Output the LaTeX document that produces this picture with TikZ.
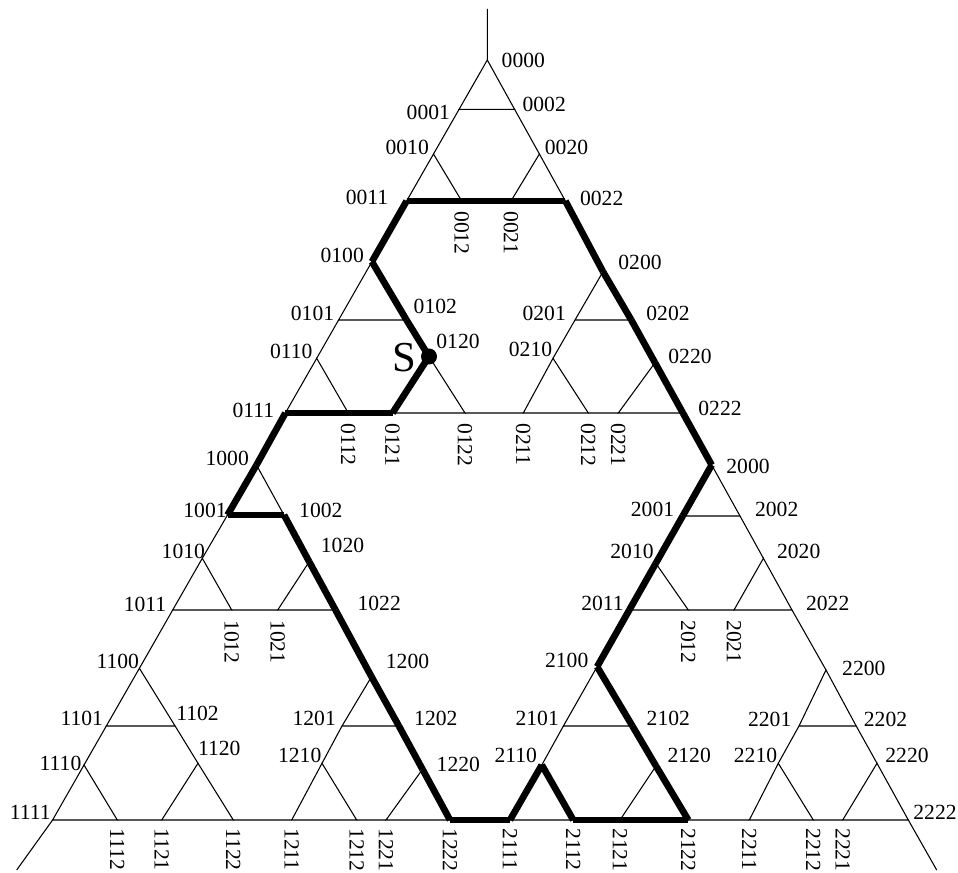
\documentclass[tikz,border=0pt]{standalone}
\usepackage{fontspec}
\setmainfont{Liberation Serif}
\usetikzlibrary{calc}
\begin{document}
\begin{tikzpicture}[x=0.75pt,y=-0.75pt,
  hedge/.style={line width=0.8pt},
  pathseg/.style={line width=5pt, line cap=butt},
  lab/.style={inner sep=0pt, font=\fontsize{16.2}{19}\selectfont},
  rlab/.style={lab, rotate=-90, anchor=west}]
\useasboundingbox (0,0) rectangle (958,873);
% vertices
\coordinate (v0000) at (487.3,60);
\coordinate (v0001) at (459.1,109.3);
\coordinate (v0002) at (514.6,109.3);
\coordinate (v0010) at (433.5,154);
\coordinate (v0011) at (406.6,201);
\coordinate (v0012) at (461.7,201);
\coordinate (v0020) at (539.4,154);
\coordinate (v0021) at (511,201);
\coordinate (v0022) at (565.4,201);
\coordinate (v0100) at (371.9,261.7);
\coordinate (v0101) at (338.6,320);
\coordinate (v0102) at (406.5,320);
\coordinate (v0110) at (316.7,358.3);
\coordinate (v0111) at (285.4,413);
\coordinate (v0112) at (348.3,413);
\coordinate (v0120) at (429,356.5);
\coordinate (v0121) at (392.5,413);
\coordinate (v0122) at (465,413);
\coordinate (v0200) at (603,271.7);
\coordinate (v0201) at (575,320);
\coordinate (v0202) at (631.3,320);
\coordinate (v0210) at (553,358.3);
\coordinate (v0211) at (523.3,413);
\coordinate (v0212) at (588.3,413);
\coordinate (v0220) at (655,362.7);
\coordinate (v0221) at (618.3,413);
\coordinate (v0222) at (682.9,413);
\coordinate (v1000) at (256.5,465);
\coordinate (v1001) at (227.5,515);
\coordinate (v1002) at (284,515);
\coordinate (v1010) at (202.3,558.3);
\coordinate (v1011) at (172.7,610);
\coordinate (v1012) at (231.7,610);
\coordinate (v1020) at (309.2,561.7);
\coordinate (v1021) at (277.7,610);
\coordinate (v1022) at (335.5,610);
\coordinate (v1100) at (139.4,668.3);
\coordinate (v1101) at (106.3,726);
\coordinate (v1102) at (175.1,726);
\coordinate (v1110) at (84,765);
\coordinate (v1111) at (52.6,820);
\coordinate (v1112) at (117.3,820);
\coordinate (v1120) at (198,763.3);
\coordinate (v1121) at (161.7,820);
\coordinate (v1122) at (233.3,820);
\coordinate (v1200) at (371.5,676.7);
\coordinate (v1201) at (342,726);
\coordinate (v1202) at (398.9,726);
\coordinate (v1210) at (322,763.3);
\coordinate (v1211) at (291.7,820);
\coordinate (v1212) at (356.7,820);
\coordinate (v1220) at (422.5,769.3);
\coordinate (v1221) at (386,820);
\coordinate (v1222) at (450,820);
\coordinate (v2000) at (711.7,465);
\coordinate (v2001) at (682.7,516);
\coordinate (v2002) at (740,516);
\coordinate (v2010) at (655.8,563.3);
\coordinate (v2011) at (629.3,610);
\coordinate (v2012) at (688.3,610);
\coordinate (v2020) at (763.4,558.3);
\coordinate (v2021) at (734,610);
\coordinate (v2022) at (792,610);
\coordinate (v2100) at (597.1,666.7);
\coordinate (v2101) at (563.4,726);
\coordinate (v2102) at (632.4,726);
\coordinate (v2110) at (541.8,765);
\coordinate (v2111) at (510,820);
\coordinate (v2112) at (573.3,820);
\coordinate (v2120) at (656,766);
\coordinate (v2121) at (620,820);
\coordinate (v2122) at (688.3,820);
\coordinate (v2200) at (826,670);
\coordinate (v2201) at (799,726);
\coordinate (v2202) at (856.2,726);
\coordinate (v2210) at (778.3,763.3);
\coordinate (v2211) at (749.3,820);
\coordinate (v2212) at (813.3,820);
\coordinate (v2220) at (877,763.3);
\coordinate (v2221) at (842.7,820);
\coordinate (v2222) at (908.3,820);
\coordinate (ctop) at (487.3,9);
\coordinate (cbl) at (16.7,870);
\coordinate (cbr) at (936.7,870);
% thin edges
\foreach \a in {0,1,2}{\foreach \b in {0,1,2}{\foreach \c in {0,1,2}{
  \draw[hedge] (v\a\b\c0) -- (v\a\b\c1) -- (v\a\b\c2) -- cycle;}}}
\foreach \a in {0,1,2}{\foreach \b in {0,1,2}{
  \draw[hedge] (v\a\b01) -- (v\a\b10) (v\a\b02) -- (v\a\b20) (v\a\b12) -- (v\a\b21);}}
\foreach \a in {0,1,2}{
  \draw[hedge] (v\a011) -- (v\a100) (v\a022) -- (v\a200) (v\a122) -- (v\a211);}
\draw[hedge] (v0111) -- (v1000) (v0222) -- (v2000) (v1222) -- (v2111);
\draw[hedge] (v0000) -- (ctop) (v1111) -- (cbl) (v2222) -- (cbr);
% thick path
\foreach \p/\q in {0120/0102,0102/0100,0100/0011,0011/0012,0012/0021,0021/0022,
  0022/0200,0200/0202,0202/0220,0220/0222,0222/2000,2000/2001,2001/2010,2010/2011,
  2011/2100,2100/2102,2102/2120,2120/2122,2122/2121,2121/2112,2112/2110,2110/2111,
  2111/1222,1222/1220,1220/1202,1202/1200,1200/1022,1022/1020,1020/1002,1002/1001,
  1001/1000,1000/0111,0111/0112,0112/0121,0121/0120}
  \draw[pathseg] (v\p) -- (v\q);
\fill (v0120) circle[radius=6pt];
\node[inner sep=0pt, font=\fontsize{32}{36}\selectfont] (S) at (404.7,357.7) {S};
% labels
\foreach \n/\x/\y in {0000/523.3/60.5,0001/428.3/112.8,0002/544.2/104.7,0010/407.2/147.8,
  0020/566.5/147.8,0011/367/197.5,0022/601.7/198,
  0100/342.2/255,0101/312.5/313.3,0102/435.3/306.7,0110/291.3/351.7,0111/253.3/410.8,
  0120/458/341.7,0200/640/262.7,0201/544.2/313.3,0202/668/313,0210/530.5/349.7,
  0220/690/356.3,0222/720/408.3,
  1000/227.2/458.3,1001/205/510,1002/320.8/510,1010/183.3/551.7,1011/145/604,
  1020/342.5/545,1022/379.2/603.3,
  2000/748/466.3,2001/652.5/509.7,2002/776.7/509.7,2010/632/551.7,2011/602.5/603.3,
  2020/798.7/551.7,2022/827.7/603.3,
  1100/117.8/661.3,1101/81.8/718.8,1102/197.5/713,1110/60.5/763.3,1111/30.3/812.5,
  1120/219.2/748.3,
  1200/407.5/661.7,1201/314.2/718.8,1202/435.8/718.8,1210/299.7/755,1220/458.3/764,
  2100/566.7/660.8,2101/537.2/718.8,2102/668.3/718.8,2110/515.8/755,2120/689.2/755,
  2200/863.8/668.3,2201/769.7/719.3,2202/885.5/719.3,2210/755.5/755,2220/907/755,
  2222/935/812.5}
  \node[lab] (l\n) at (\x,\y) {\n};
\foreach \n in {0012,0021,0112,0121,0122,0211,0212,0221,1012,1021,2012,2021}
  \node[rlab] (l\n) at ($(v\n)+(0,10)$) {\n};
\foreach \n in {1112,1121,1122,1211,1212,1221,1222,2111,2112,2121,2122,2211,2212,2221}
  \node[rlab] (l\n) at ($(v\n)+(0,8)$) {\n};
\end{tikzpicture}
\end{document}
